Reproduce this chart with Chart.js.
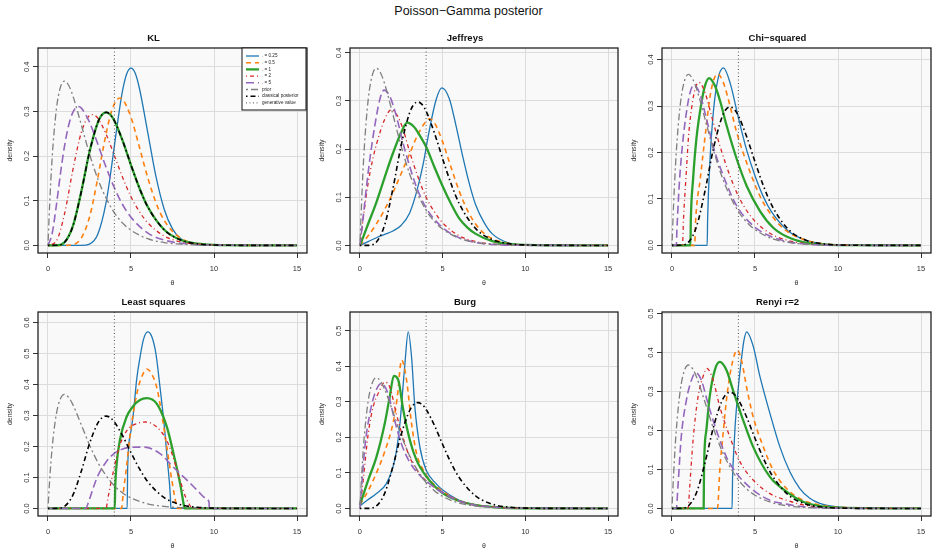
<!DOCTYPE html>
<html>
<head>
<meta charset="utf-8">
<script src="https://cdn.jsdelivr.net/npm/chart.js@4.4.0/dist/chart.umd.min.js"></script>
<style>
  body { margin: 0; background: #fff; }
  #page { position: relative; width: 937px; height: 553px; font-family: "Liberation Sans", Arial, sans-serif; }
  #mainTitle { position: absolute; left: 0; top: 4px; width: 937px; text-align: center; font-size: 12.5px; color: #111; }
  canvas { position: absolute; }
</style>
</head>
<body>
<div id="page">
  <div id="mainTitle">Poisson−Gamma posterior</div>
  <canvas id="kl" width="312" height="265" style="left:0;top:26px"></canvas>
  <canvas id="jeffreys" width="312" height="265" style="left:312px;top:26px"></canvas>
  <canvas id="chisq" width="313" height="265" style="left:624px;top:26px"></canvas>
  <canvas id="lsq" width="312" height="264" style="left:0;top:290px"></canvas>
  <canvas id="burg" width="312" height="264" style="left:312px;top:290px"></canvas>
  <canvas id="renyi" width="313" height="264" style="left:624px;top:290px"></canvas>
</div>
<script>
// tick labels, legend labels
const thetaTicks = [0, 5, 10, 15];
const generativeValue = 4;
const seriesLabels = ['. = 0.25', '. = 0.5', '. = 1', '. = 2', '. = 5', 'prior', 'classical posterior'];

// shared curves, [theta, density]
const prior = [[0,0],[0.1,0.09],[0.25,0.195],[0.5,0.303],[0.75,0.354],[1,0.368],[1.25,0.358],[1.5,0.335],[2,0.271],[2.5,0.205],[3,0.149],[3.5,0.106],[4,0.073],[4.5,0.05],[5,0.034],[6,0.015],[7,0.0064],[8,0.0027],[10,0.0005],[12,0.0001],[15,0]];
const classical = [[0,0],[0.5,0.0002],[1,0.007],[1.5,0.043],[2,0.119],[2.5,0.209],[3,0.275],[3.25,0.2925],[3.5,0.298],[3.75,0.293],[4,0.279],[4.5,0.234],[5,0.18],[5.5,0.129],[6,0.087],[7,0.035],[8,0.012],[9,0.0037],[10,0.001],[12,0.0001],[15,0]];

// KL
const klBlue = [[0,0],[2,0.0001],[2.5,0.003],[3,0.025],[3.5,0.096],[3.75,0.155],[4,0.223],[4.25,0.29],[4.5,0.348],[4.75,0.385],[5,0.397],[5.25,0.386],[5.5,0.353],[6,0.255],[6.5,0.155],[7,0.081],[7.5,0.037],[8,0.015],[9,0.002],[10,0.0002],[15,0]];
const klOrange = [[0,0],[1,0],[1.5,0.0017],[2,0.016],[2.5,0.063],[3,0.151],[3.25,0.202],[3.5,0.25],[3.75,0.29],[4,0.317],[4.33,0.33],[4.5,0.327],[5,0.287],[5.5,0.221],[6,0.153],[6.5,0.096],[7,0.056],[8,0.016],[9,0.0037],[10,0.0007],[15,0]];
const klGreen = classical;
const klRed = [[0,0],[0.5,0.0094],[1,0.071],[1.5,0.169],[2,0.252],[2.5,0.291],[2.67,0.293],[3,0.285],[3.5,0.249],[4,0.201],[4.5,0.152],[5,0.109],[5.5,0.076],[6,0.051],[7,0.021],[8,0.008],[9,0.0029],[10,0.001],[12,0.0001],[15,0]];
const klPurple = [[0,0],[0.25,0.026],[0.5,0.088],[0.75,0.16],[1,0.223],[1.25,0.2695],[1.5,0.298],[1.83,0.311],[2,0.308],[2.5,0.276],[3,0.227],[3.5,0.175],[4,0.129],[4.5,0.091],[5,0.063],[6,0.028],[7,0.012],[8,0.0049],[10,0.0007],[15,0]];

// Jeffreys
const jefBlue = [[0,0],[0.5,0.008],[1,0.016],[1.5,0.023],[2,0.03],[2.5,0.042],[3,0.067],[3.4,0.108],[3.8,0.165],[4.2,0.24],[4.6,0.302],[4.95,0.327],[5.4,0.305],[5.8,0.25],[6.2,0.187],[6.6,0.13],[7,0.084],[7.5,0.048],[8,0.024],[9,0.005],[10,0.001],[15,0]];
const jefOrange = [[0,0],[0.5,0.02],[1,0.045],[1.5,0.075],[2,0.11],[2.5,0.15],[3,0.19],[3.5,0.23],[4,0.258],[4.2,0.263],[4.5,0.255],[5,0.215],[5.5,0.163],[6,0.113],[6.5,0.073],[7,0.044],[7.5,0.025],[8,0.014],[9,0.004],[10,0.001],[15,0]];
const jefGreen = [[0,0],[0.25,0.022],[0.5,0.045],[1,0.09],[1.5,0.142],[2,0.192],[2.5,0.235],[2.85,0.255],[3.25,0.247],[3.5,0.235],[4,0.205],[4.5,0.163],[5,0.123],[5.5,0.087],[6,0.056],[6.5,0.037],[7,0.024],[8,0.009],[9,0.003],[10,0.001],[15,0]];
const jefRed = [[0,0],[0.25,0.07],[0.5,0.13],[0.75,0.175],[1,0.21],[1.5,0.262],[1.9,0.282],[2.25,0.27],[2.6,0.242],[3,0.195],[3.5,0.143],[4,0.1],[4.5,0.07],[5,0.047],[6,0.02],[7,0.008],[8,0.003],[10,0.0004],[15,0]];
const jefPurple = [[0,0],[0.2,0.06],[0.4,0.123],[0.6,0.179],[0.8,0.227],[1,0.269],[1.2,0.303],[1.45,0.3225],[1.8,0.31],[2.2,0.269],[2.6,0.213],[3,0.165],[3.4,0.123],[4,0.078],[5,0.037],[6,0.016],[7,0.006],[8,0.002],[10,0.0003],[15,0]];

// Chi-squared
const chiBlue = [[0,0],[2.12,0],[2.15,0.06],[2.3,0.19],[2.5,0.29],[2.75,0.355],[3.1,0.382],[3.5,0.35],[4,0.275],[4.5,0.205],[5,0.15],[5.5,0.105],[6,0.072],[7,0.031],[8,0.012],[9,0.004],[10,0.0012],[15,0]];
const chiOrange = [[0,0],[1.37,0],[1.42,0.05],[1.7,0.142],[2,0.236],[2.3,0.322],[2.55,0.36],[2.75,0.369],[3.1,0.35],[3.5,0.3],[3.9,0.243],[4.5,0.178],[5.3,0.106],[6.1,0.06],[6.9,0.031],[7.9,0.013],[9,0.004],[10,0.0013],[15,0]];
const chiGreen = [[0,0],[1.11,0],[1.14,0.06],[1.27,0.142],[1.47,0.229],[1.78,0.308],[2,0.345],[2.24,0.36],[2.58,0.344],[2.89,0.312],[3.29,0.258],[3.9,0.186],[4.5,0.128],[5.3,0.074],[6.1,0.038],[6.9,0.019],[7.9,0.007],[9,0.002],[10,0.0006],[15,0]];
const chiRed = [[0,0],[0.63,0],[0.7,0.06],[0.85,0.15],[1.0,0.235],[1.2,0.3],[1.4,0.338],[1.63,0.351],[1.98,0.33],[2.38,0.279],[2.89,0.214],[3.49,0.15],[4.1,0.099],[4.9,0.056],[5.9,0.026],[6.9,0.0115],[8,0.004],[10,0.0005],[15,0]];
const chiPurple = [[0,0],[0.26,0],[0.3,0.035],[0.46,0.142],[0.67,0.229],[0.87,0.286],[1.07,0.326],[1.31,0.345],[1.68,0.326],[2.08,0.272],[2.48,0.214],[3.09,0.15],[3.9,0.085],[4.9,0.042],[5.9,0.02],[7,0.008],[8,0.003],[10,0.0004],[15,0]];

// Least squares
const lsBlue = [[0,0],[4.77,0],[4.8,0.13],[5.0,0.25],[5.13,0.3],[5.35,0.42],[5.55,0.49],[5.75,0.545],[6.0,0.57],[6.25,0.555],[6.5,0.5],[6.75,0.39],[7.0,0.27],[7.2,0.15],[7.38,0.03],[7.4,0],[15,0]];
const lsOrange = [[0,0],[4.43,0],[4.53,0.048],[4.73,0.134],[4.93,0.23],[5.13,0.305],[5.44,0.391],[5.74,0.436],[5.95,0.45],[6.25,0.434],[6.55,0.391],[6.85,0.305],[7.16,0.198],[7.46,0.091],[7.76,0.005],[7.8,0],[15,0]];
const lsGreen = [[0,0],[4.02,0],[4.05,0.07],[4.12,0.134],[4.33,0.22],[4.73,0.295],[5.13,0.33],[5.54,0.35],[5.94,0.356],[6.55,0.338],[7.16,0.263],[7.56,0.177],[7.96,0.08],[8.2,0.005],[8.22,0],[15,0]];
const lsRed = [[0,0],[3.5,0],[3.6,0.03],[3.9,0.11],[4.3,0.2],[4.8,0.255],[5.3,0.273],[5.9,0.279],[6.5,0.265],[7.1,0.225],[7.5,0.172],[7.9,0.1],[8.3,0.035],[8.6,0.005],[8.65,0],[15,0]];
const lsPurple = [[0,0],[2.26,0],[2.5,0.03],[2.75,0.07],[3,0.105],[3.5,0.15],[4,0.178],[4.5,0.192],[5,0.197],[5.75,0.198],[6.75,0.177],[7.5,0.136],[8,0.11],[8.4,0.09],[9,0.058],[9.5,0.033],[9.7,0.02],[9.72,0],[15,0]];

// Burg
const burgBlue = [[0,0.007],[0.5,0.025],[1,0.042],[1.6,0.07],[2,0.117],[2.2,0.16],[2.42,0.239],[2.6,0.34],[2.72,0.408],[2.92,0.497],[3.12,0.427],[3.32,0.286],[3.62,0.174],[4,0.108],[4.6,0.07],[5,0.052],[6,0.023],[7,0.01],[8,0.004],[9,0.0015],[10,0.0005],[15,0]];
const burgOrange = [[0,0.01],[0.5,0.05],[1,0.1],[1.5,0.16],[2,0.24],[2.25,0.31],[2.52,0.418],[2.82,0.361],[3.12,0.239],[3.42,0.155],[3.83,0.108],[4.23,0.08],[5,0.048],[6,0.022],[7,0.01],[8,0.004],[10,0.0005],[15,0]];
const burgGreen = [[0,0.01],[0.5,0.08],[1,0.145],[1.5,0.239],[1.8,0.314],[2.05,0.373],[2.32,0.361],[2.62,0.277],[3.02,0.192],[3.42,0.136],[4.03,0.089],[5,0.043],[6,0.021],[7,0.009],[8,0.004],[10,0.0005],[15,0]];
const burgRed = [[0,0],[0.2,0.08],[0.5,0.21],[0.8,0.286],[1.2,0.333],[1.5,0.356],[1.8,0.342],[2.2,0.267],[2.6,0.2],[3,0.145],[3.6,0.098],[4.2,0.07],[5,0.045],[6,0.021],[7,0.009],[8,0.004],[10,0.0005],[15,0]];
const burgPurple = [[0,0],[0.1,0.06],[0.3,0.173],[0.6,0.267],[0.9,0.323],[1.3,0.352],[1.7,0.323],[2.1,0.248],[2.5,0.183],[3,0.131],[3.6,0.094],[4.2,0.07],[5,0.044],[6,0.021],[7,0.009],[8,0.004],[10,0.0005],[15,0]];

// Renyi r=2
const renBlue = [[0,0],[3.62,0],[3.65,0.08],[3.7,0.13],[3.8,0.209],[4,0.312],[4.2,0.389],[4.33,0.43],[4.5,0.453],[4.9,0.415],[5.3,0.338],[5.9,0.244],[6.5,0.158],[7.1,0.094],[7.7,0.051],[8.3,0.026],[8.9,0.013],[10,0.004],[12,0.0005],[15,0]];
const renOrange = [[0,0],[2.74,0],[2.88,0.098],[3.08,0.192],[3.28,0.278],[3.58,0.363],[3.93,0.406],[4.19,0.38],[4.49,0.312],[4.89,0.235],[5.5,0.158],[6.1,0.098],[6.9,0.051],[7.9,0.021],[8.9,0.009],[10,0.003],[15,0]];
const renGreen = [[0,0],[1.91,0],[1.93,0.1],[2.07,0.2],[2.27,0.286],[2.58,0.355],[2.88,0.376],[3.28,0.355],[3.68,0.303],[4.29,0.226],[4.89,0.158],[5.9,0.081],[6.9,0.043],[7.9,0.017],[8.9,0.006],[10,0.002],[15,0]];
const renRed = [[0,0],[0.97,0],[1.07,0.056],[1.27,0.175],[1.57,0.286],[1.87,0.338],[2.11,0.359],[2.48,0.329],[2.88,0.261],[3.48,0.184],[4.09,0.12],[4.89,0.073],[5.9,0.038],[6.9,0.021],[7.9,0.009],[9,0.003],[10,0.001],[15,0]];
const renPurple = [[0,0],[0.26,0],[0.36,0.056],[0.56,0.184],[0.87,0.278],[1.17,0.329],[1.43,0.348],[1.77,0.329],[2.17,0.269],[2.68,0.2],[3.28,0.132],[3.89,0.09],[4.89,0.047],[5.9,0.021],[6.9,0.011],[8,0.004],[10,0.0006],[15,0]];

// line styles, same order as seriesLabels
const styles = [
  { color: '#1f77b4', width: 1.3, dash: [] },
  { color: '#ff7f0e', width: 1.6, dash: [5, 4] },
  { color: '#2ca02c', width: 2.3, dash: [] },
  { color: '#d62728', width: 1.3, dash: [1, 3, 4, 3] },
  { color: '#9467bd', width: 1.6, dash: [8, 4] },
  { color: '#7f7f7f', width: 1.3, dash: [2, 3, 7, 3] },
  { color: '#000000', width: 1.6, dash: [1.5, 3, 5, 3] }
];
const genStyle = { color: '#555', width: 1, dash: [1, 2.5] };

Chart.defaults.font.family = '"Liberation Sans", Arial, sans-serif';

function drawLegend(chart) {
  const { ctx, chartArea: a } = chart;
  const w = 64, h = 62;
  const left = a.right - w - 1, top = a.top;
  ctx.save();
  ctx.fillStyle = '#fff';
  ctx.fillRect(left, top, w, h);
  ctx.strokeStyle = '#111';
  ctx.lineWidth = 1;
  ctx.strokeRect(left, top, w, h);
  ctx.font = '4.6px "Liberation Sans", Arial';
  ctx.textBaseline = 'middle';
  const rows = seriesLabels.map((t, i) => ({ text: t, st: styles[i] }));
  rows.push({ text: 'generative value', st: genStyle });
  rows.forEach((r, i) => {
    const yy = top + 8 + i * 6.7;
    ctx.strokeStyle = r.st.color;
    ctx.lineWidth = r.st.width;
    ctx.setLineDash(r.st.dash);
    ctx.beginPath();
    ctx.moveTo(left + 4, yy);
    ctx.lineTo(left + 17, yy);
    ctx.stroke();
    ctx.setLineDash([]);
    ctx.fillStyle = '#222';
    ctx.fillText(r.text, left + 20, yy);
  });
  ctx.restore();
}

const panelFrame = {
  id: 'panelFrame',
  beforeDraw(chart) {
    const { ctx, chartArea: a } = chart;
    ctx.save();
    ctx.fillStyle = '#f9f9f9';
    ctx.fillRect(a.left, a.top, a.width, a.height);
    ctx.restore();
  },
  afterDatasetsDraw(chart) {
    const { ctx, chartArea: a, scales: { x, y } } = chart;
    const gx = x.getPixelForValue(generativeValue);
    ctx.save();
    ctx.strokeStyle = genStyle.color;
    ctx.lineWidth = genStyle.width;
    ctx.setLineDash(genStyle.dash);
    ctx.beginPath();
    ctx.moveTo(gx, a.top);
    ctx.lineTo(gx, a.bottom);
    ctx.stroke();
    ctx.setLineDash([]);
    ctx.strokeStyle = '#222';
    ctx.lineWidth = 1.3;
    ctx.strokeRect(a.left, a.top, a.width, a.height);
    // y tick labels drawn vertical, like base R
    ctx.fillStyle = '#333';
    ctx.font = '7.5px "Liberation Sans", Arial';
    ctx.textAlign = 'center';
    ctx.textBaseline = 'middle';
    y.ticks.forEach(t => {
      ctx.save();
      ctx.translate(a.left - 11, y.getPixelForValue(t.value));
      ctx.rotate(-Math.PI / 2);
      ctx.fillText(t.value.toFixed(1), 0, 0);
      ctx.restore();
    });
    ctx.restore();
    if (chart.options.plugins.panelFrame.legend) drawLegend(chart);
  }
};

function makePanel(id, title, curves, yMin, yMax, yTicks, padRight, withLegend) {
  const datasets = curves.map((pts, i) => ({
    label: seriesLabels[i],
    data: pts.map(([x, y]) => ({ x, y })),
    borderColor: styles[i].color,
    borderWidth: styles[i].width,
    borderDash: styles[i].dash,
    pointRadius: 0,
    fill: false,
    cubicInterpolationMode: 'monotone',
    order: curves.length - i
  }));
  const grid = { color: '#dcdcdc', lineWidth: 1, tickColor: '#333', tickLength: 5, drawTicks: true };
  new Chart(document.getElementById(id), {
    type: 'line',
    data: { datasets },
    plugins: [panelFrame],
    options: {
      responsive: false,
      animation: false,
      events: [],
      layout: { padding: { left: 0, right: padRight, top: 0, bottom: 0 } },
      scales: {
        x: {
          type: 'linear', min: -0.6, max: 15.6,
          afterBuildTicks: s => { s.ticks = thetaTicks.map(v => ({ value: v })); },
          afterFit: s => { s.height = 38; },
          grid: grid,
          border: { display: false },
          ticks: { color: '#333', font: { size: 7.5 }, padding: 6, maxRotation: 0, minRotation: 0 },
          title: { display: true, text: 'θ', color: '#333', font: { size: 7 }, padding: { top: 0, bottom: 4 } }
        },
        y: {
          type: 'linear', min: yMin, max: yMax,
          afterBuildTicks: s => { s.ticks = yTicks.map(v => ({ value: v })); },
          afterFit: s => { s.width = 38; },
          grid: grid,
          border: { display: false },
          ticks: { display: false },
          title: { display: true, text: 'density', color: '#333', font: { size: 7 }, padding: { top: 6, bottom: 0 } }
        }
      },
      plugins: {
        title: { display: true, text: title, color: '#111', font: { size: 9.5, weight: 'bold' }, padding: { top: 6.3, bottom: 4.3 } },
        legend: { display: false },
        tooltip: { enabled: false },
        panelFrame: { legend: withLegend }
      }
    }
  });
}

const ticks04 = [0, 0.1, 0.2, 0.3, 0.4];
const ticks05 = [0, 0.1, 0.2, 0.3, 0.4, 0.5];
const ticks06 = [0, 0.1, 0.2, 0.3, 0.4, 0.5, 0.6];

makePanel('kl', 'KL', [klBlue, klOrange, klGreen, klRed, klPurple, prior, classical], -0.017, 0.442, ticks04, 5, true);
makePanel('jeffreys', 'Jeffreys', [jefBlue, jefOrange, jefGreen, jefRed, jefPurple, prior, classical], -0.0157, 0.41, ticks04, 6, false);
makePanel('chisq', 'Chi−squared', [chiBlue, chiOrange, chiGreen, chiRed, chiPurple, prior, classical], -0.0164, 0.425, ticks04, 6, false);
makePanel('lsq', 'Least squares', [lsBlue, lsOrange, lsGreen, lsRed, lsPurple, prior, classical], -0.0244, 0.634, ticks06, 5, false);
makePanel('burg', 'Burg', [burgBlue, burgOrange, burgGreen, burgRed, burgPurple, prior, classical], -0.0213, 0.553, ticks05, 6, false);
makePanel('renyi', 'Renyi r=2', [renBlue, renOrange, renGreen, renRed, renPurple, prior, classical], -0.0194, 0.504, ticks05, 6, false);
</script>
</body>
</html>
